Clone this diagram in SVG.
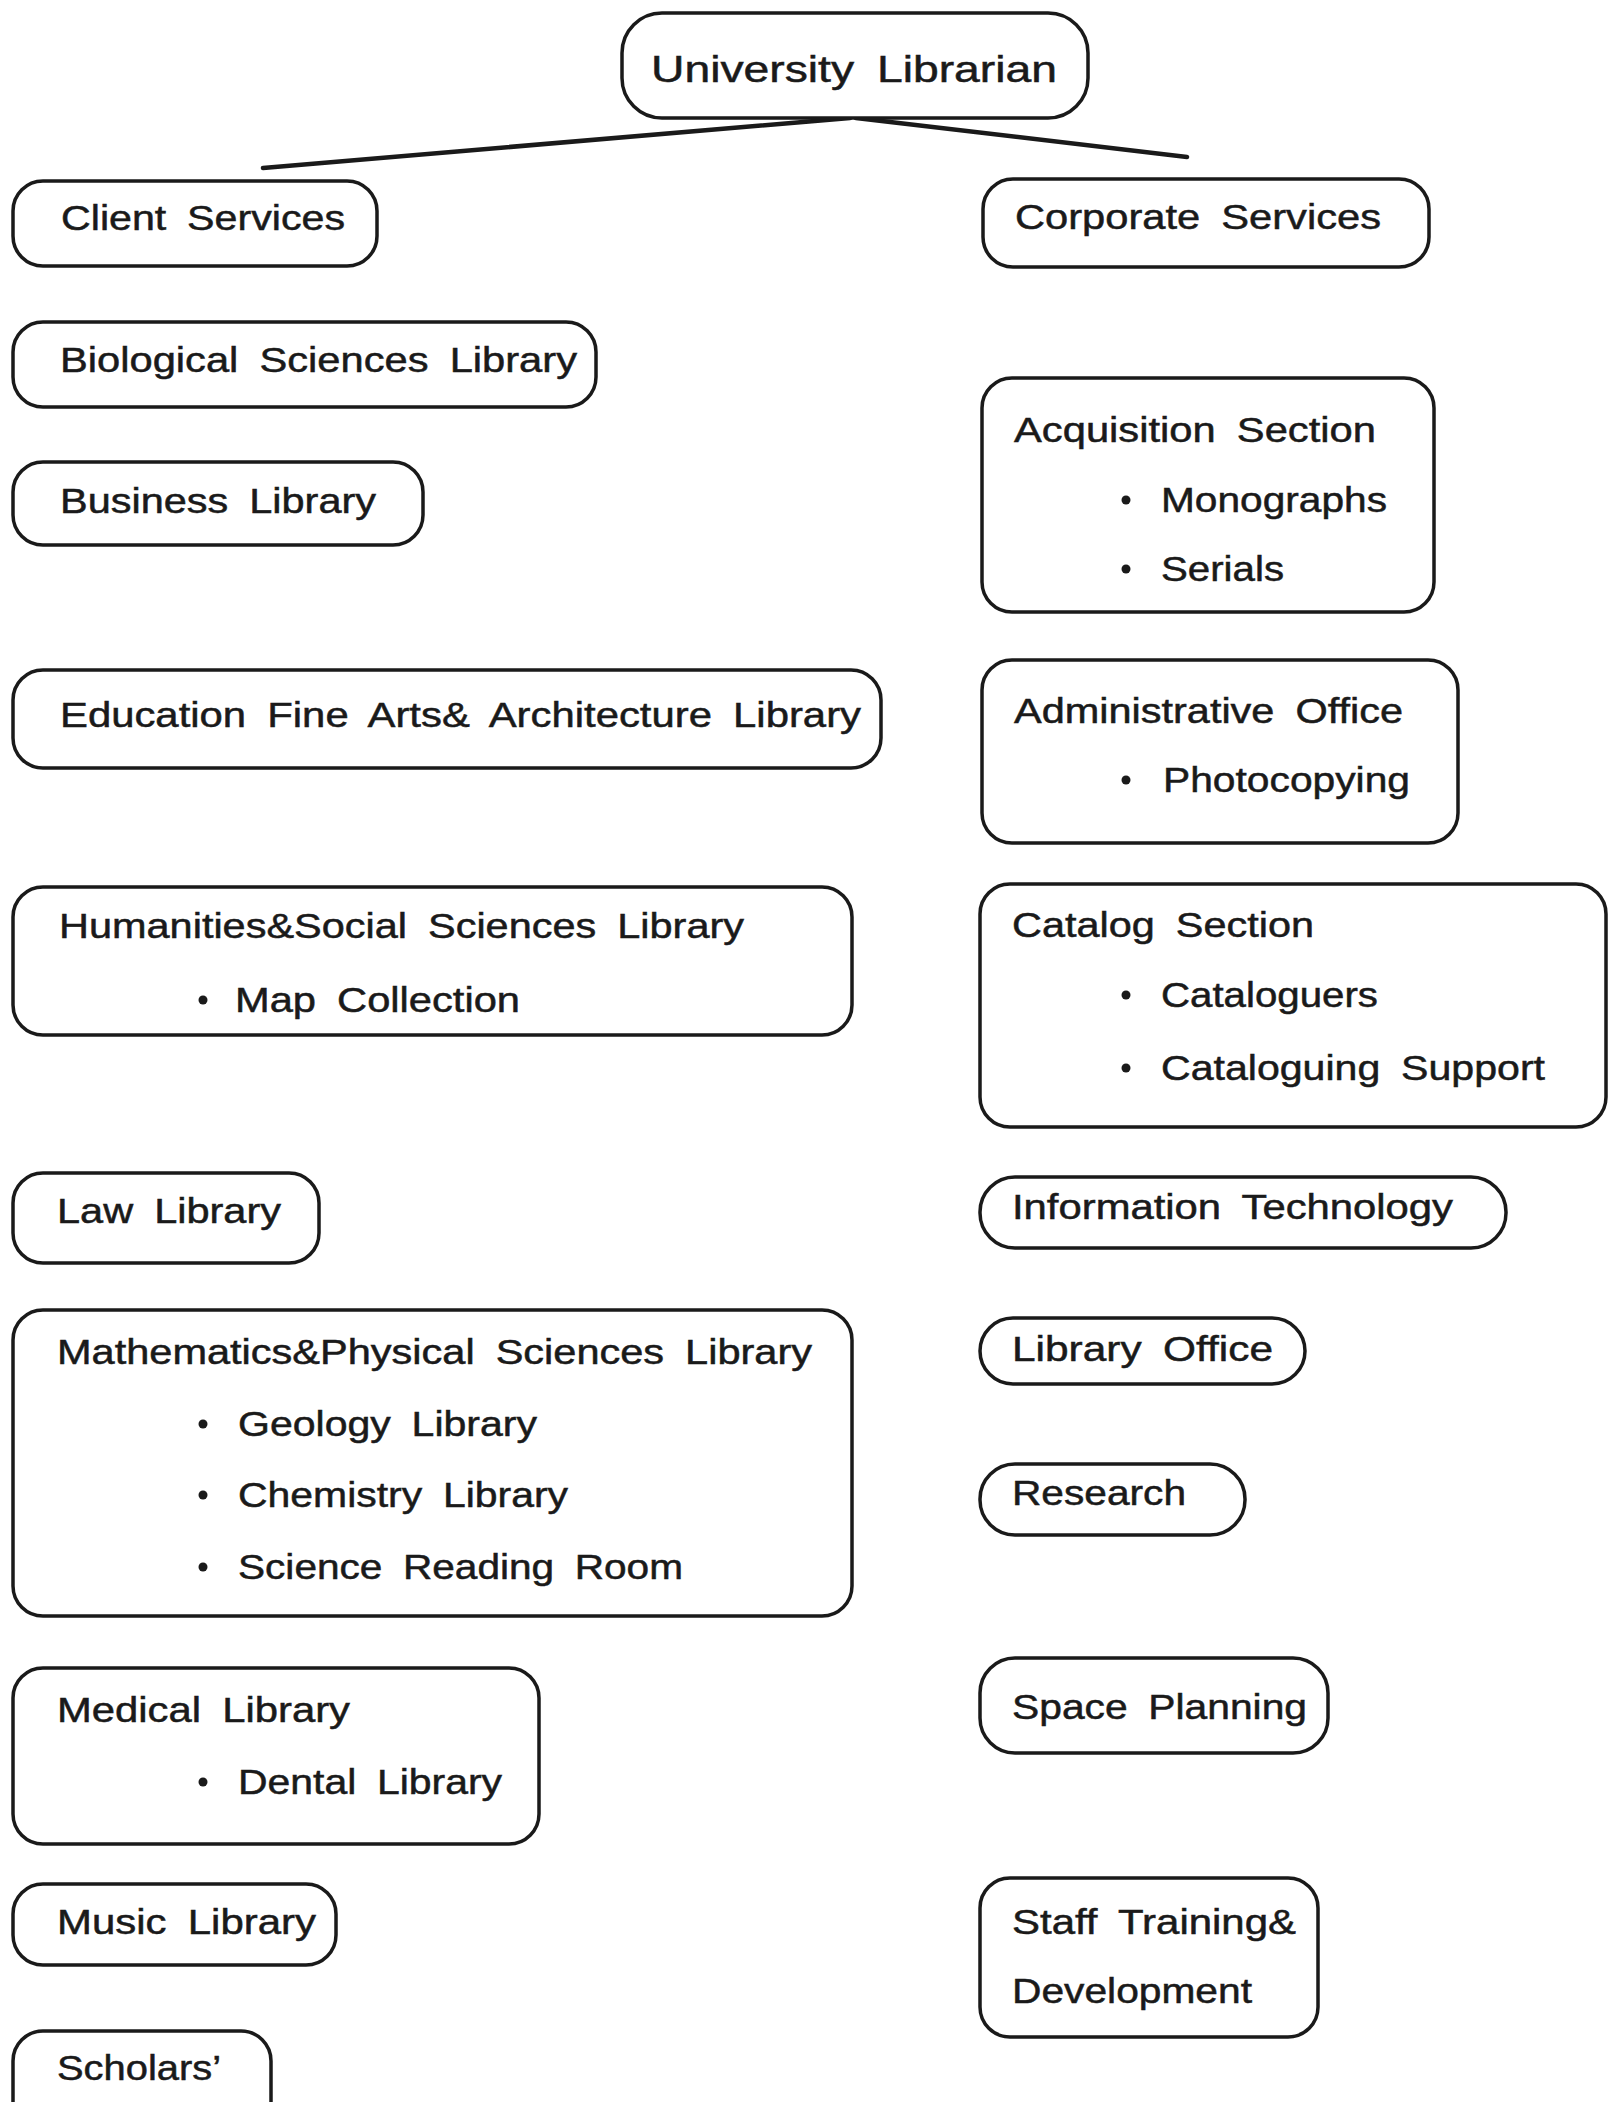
<svg xmlns="http://www.w3.org/2000/svg" width="1617" height="2102" viewBox="0 0 1617 2102">
<style>
.box{fill:#fff;stroke:#1a1a1a;stroke-width:3.5}
.t{font-family:"Liberation Sans",Arial,sans-serif;font-size:35px;fill:#1a1a1a;stroke:#1a1a1a;stroke-width:0.5;word-spacing:8px}
.b{fill:#1a1a1a}
.c{stroke:#1a1a1a;stroke-width:4.5;fill:none;stroke-linecap:round}
</style>
<rect width="1617" height="2102" fill="#fff"/>
<g id="connectors">
<line class="c" x1="850" y1="118" x2="263" y2="168"/>
<line class="c" x1="856" y1="118" x2="1187" y2="157"/>
</g>
<g id="university-librarian">
<rect class="box" x="622" y="13" width="466" height="105" rx="40"/>
<text class="t" x="651" y="82" style="font-size:37px" textLength="406" lengthAdjust="spacingAndGlyphs">University Librarian</text>
</g>
<g id="client-services">
<rect class="box" x="13" y="181" width="364" height="85" rx="30"/>
<text class="t" x="61" y="230" textLength="284" lengthAdjust="spacingAndGlyphs">Client Services</text>
</g>
<g id="biological">
<rect class="box" x="13" y="322" width="583" height="85" rx="30"/>
<text class="t" x="60" y="372" textLength="517" lengthAdjust="spacingAndGlyphs">Biological Sciences Library</text>
</g>
<g id="business">
<rect class="box" x="13" y="462" width="410" height="83" rx="30"/>
<text class="t" x="60" y="513" textLength="316" lengthAdjust="spacingAndGlyphs">Business Library</text>
</g>
<g id="education">
<rect class="box" x="13" y="670" width="868" height="98" rx="30"/>
<text class="t" x="60" y="727" textLength="801" lengthAdjust="spacingAndGlyphs">Education Fine Arts&amp; Architecture Library</text>
</g>
<g id="humanities">
<rect class="box" x="13" y="887" width="839" height="148" rx="30"/>
<text class="t" x="59" y="938" textLength="685" lengthAdjust="spacingAndGlyphs">Humanities&amp;Social Sciences Library</text>
<circle class="b" cx="203" cy="1000" r="4.5"/>
<text class="t" x="235" y="1012" textLength="285" lengthAdjust="spacingAndGlyphs">Map Collection</text>
</g>
<g id="law">
<rect class="box" x="13" y="1173" width="306" height="90" rx="30"/>
<text class="t" x="57" y="1223" textLength="224" lengthAdjust="spacingAndGlyphs">Law Library</text>
</g>
<g id="math">
<rect class="box" x="13" y="1310" width="839" height="306" rx="30"/>
<text class="t" x="57" y="1364" textLength="755" lengthAdjust="spacingAndGlyphs">Mathematics&amp;Physical Sciences Library</text>
<circle class="b" cx="203" cy="1424" r="4.5"/>
<text class="t" x="238" y="1436" textLength="299" lengthAdjust="spacingAndGlyphs">Geology Library</text>
<circle class="b" cx="203" cy="1495" r="4.5"/>
<text class="t" x="238" y="1507" textLength="330" lengthAdjust="spacingAndGlyphs">Chemistry Library</text>
<circle class="b" cx="203" cy="1567" r="4.5"/>
<text class="t" x="238" y="1579" textLength="445" lengthAdjust="spacingAndGlyphs">Science Reading Room</text>
</g>
<g id="medical">
<rect class="box" x="13" y="1668" width="526" height="176" rx="30"/>
<text class="t" x="57" y="1722" textLength="293" lengthAdjust="spacingAndGlyphs">Medical Library</text>
<circle class="b" cx="203" cy="1782" r="4.5"/>
<text class="t" x="238" y="1794" textLength="264" lengthAdjust="spacingAndGlyphs">Dental Library</text>
</g>
<g id="music">
<rect class="box" x="13" y="1884" width="323" height="81" rx="30"/>
<text class="t" x="57" y="1934" textLength="259" lengthAdjust="spacingAndGlyphs">Music Library</text>
</g>
<g id="scholars">
<rect class="box" x="13" y="2031" width="258" height="100" rx="30"/>
<text class="t" x="57" y="2080" textLength="164" lengthAdjust="spacingAndGlyphs">Scholars’</text>
</g>
<g id="corporate-services">
<rect class="box" x="983" y="179" width="446" height="88" rx="30"/>
<text class="t" x="1015" y="229" textLength="366" lengthAdjust="spacingAndGlyphs">Corporate Services</text>
</g>
<g id="acquisition">
<rect class="box" x="982" y="378" width="452" height="234" rx="30"/>
<text class="t" x="1014" y="442" textLength="362" lengthAdjust="spacingAndGlyphs">Acquisition Section</text>
<circle class="b" cx="1126" cy="500" r="4.5"/>
<text class="t" x="1161" y="512" textLength="226" lengthAdjust="spacingAndGlyphs">Monographs</text>
<circle class="b" cx="1126" cy="569" r="4.5"/>
<text class="t" x="1161" y="581" textLength="123" lengthAdjust="spacingAndGlyphs">Serials</text>
</g>
<g id="administrative">
<rect class="box" x="982" y="660" width="476" height="183" rx="30"/>
<text class="t" x="1014" y="723" textLength="389" lengthAdjust="spacingAndGlyphs">Administrative Office</text>
<circle class="b" cx="1126" cy="780" r="4.5"/>
<text class="t" x="1163" y="792" textLength="247" lengthAdjust="spacingAndGlyphs">Photocopying</text>
</g>
<g id="catalog">
<rect class="box" x="980" y="884" width="626" height="243" rx="30"/>
<text class="t" x="1012" y="937" textLength="302" lengthAdjust="spacingAndGlyphs">Catalog Section</text>
<circle class="b" cx="1126" cy="995" r="4.5"/>
<text class="t" x="1161" y="1007" textLength="217" lengthAdjust="spacingAndGlyphs">Cataloguers</text>
<circle class="b" cx="1126" cy="1068" r="4.5"/>
<text class="t" x="1161" y="1080" textLength="384" lengthAdjust="spacingAndGlyphs">Cataloguing Support</text>
</g>
<g id="information-technology">
<rect class="box" x="980" y="1177" width="526" height="71" rx="35"/>
<text class="t" x="1012" y="1219" textLength="441" lengthAdjust="spacingAndGlyphs">Information Technology</text>
</g>
<g id="library-office">
<rect class="box" x="980" y="1318" width="325" height="66" rx="33"/>
<text class="t" x="1012" y="1361" textLength="261" lengthAdjust="spacingAndGlyphs">Library Office</text>
</g>
<g id="research">
<rect class="box" x="980" y="1464" width="265" height="71" rx="35"/>
<text class="t" x="1012" y="1505" textLength="174" lengthAdjust="spacingAndGlyphs">Research</text>
</g>
<g id="space-planning">
<rect class="box" x="980" y="1658" width="348" height="95" rx="35"/>
<text class="t" x="1012" y="1719" textLength="295" lengthAdjust="spacingAndGlyphs">Space Planning</text>
</g>
<g id="staff-training">
<rect class="box" x="980" y="1878" width="338" height="159" rx="30"/>
<text class="t" x="1012" y="1934" textLength="284" lengthAdjust="spacingAndGlyphs">Staff Training&amp;</text>
<text class="t" x="1012" y="2003" textLength="240" lengthAdjust="spacingAndGlyphs">Development</text>
</g>
</svg>
